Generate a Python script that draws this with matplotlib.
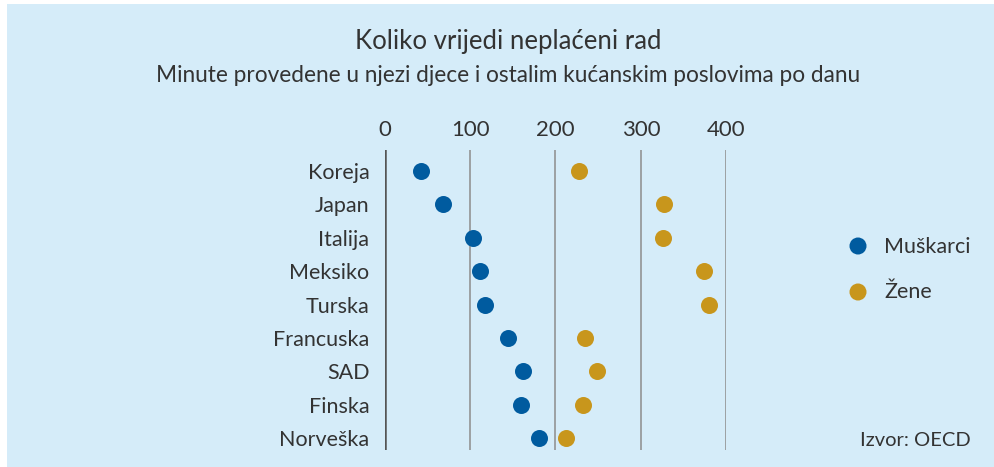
import matplotlib.pyplot as plt
from matplotlib.patches import Rectangle

zemlje = ['Koreja', 'Japan', 'Italija', 'Meksiko', 'Turska',
          'Francuska', 'SAD', 'Finska', 'Norveška']
muskarci = [43, 68, 103, 112, 117, 144, 162, 160, 181]
zene = [227, 327, 326, 374, 380, 234, 249, 232, 212]
x_ticks = [0, 100, 200, 300, 400]

plava = '#005b9f'
zlatna = '#c8961c'
tekst = '#333333'
pozadina = '#d5ecf9'

plt.rcParams['font.family'] = ['Lato', 'DejaVu Sans']

fig = plt.figure(figsize=(9.95, 4.67), dpi=100)
fig.patches.append(Rectangle((7 / 995, 0), 1, 1 - 4 / 467, transform=fig.transFigure,
                             facecolor=pozadina, edgecolor='none', zorder=-10))

ax = fig.add_axes([384.7 / 995, 17 / 467, 341.6 / 995, 300 / 467])
ax.set_facecolor('none')

y = list(range(len(zemlje)))
for x in x_ticks:
    if x == 0:
        ax.axvline(x, color='#555555', lw=1.8, zorder=1)
    else:
        ax.axvline(x, color='#8c8c8c', lw=1.1, zorder=1)

ax.scatter(muskarci, y, s=150, color=plava, zorder=3, linewidths=0)
ax.scatter(zene, y, s=150, color=zlatna, zorder=3, linewidths=0)

ax.set_xlim(0, 400)
ax.set_ylim(8.36, -0.63)
ax.set_xticks(x_ticks)
ax.set_yticks(y)
ax.set_yticklabels(zemlje)
ax.xaxis.tick_top()
ax.tick_params(axis='x', length=0, pad=7, labelsize=16, labelcolor=tekst)
ax.tick_params(axis='y', length=0, pad=11, labelsize=15.5, labelcolor=tekst)
for s in ax.spines.values():
    s.set_visible(False)

fig.text(508 / 995, 1 - 42 / 467, 'Koliko vrijedi neplaćeni rad', ha='center', va='center',
         fontsize=18.5, color=tekst)
fig.text(508 / 995, 1 - 76 / 467,
         'Minute provedene u njezi djece i ostalim kućanskim poslovima po danu',
         ha='center', va='center', fontsize=16.3, color=tekst)

# legenda
leg_ax = fig.add_axes([0, 0, 1, 1])
leg_ax.set_axis_off()
leg_ax.set_xlim(0, 995)
leg_ax.set_ylim(467, 0)
leg_ax.scatter([858, 858], [246, 292], s=150, color=[plava, zlatna], linewidths=0)
fig.text(884 / 995, 1 - 247 / 467, 'Muškarci', va='center', fontsize=15.5, color=tekst)
fig.text(884 / 995, 1 - 292 / 467, 'Žene', va='center', fontsize=15.5, color=tekst)
fig.text(860 / 995, 1 - 441 / 467, 'Izvor: OECD', va='center', fontsize=14.5, color=tekst)

plt.savefig('out.png', dpi=100)
